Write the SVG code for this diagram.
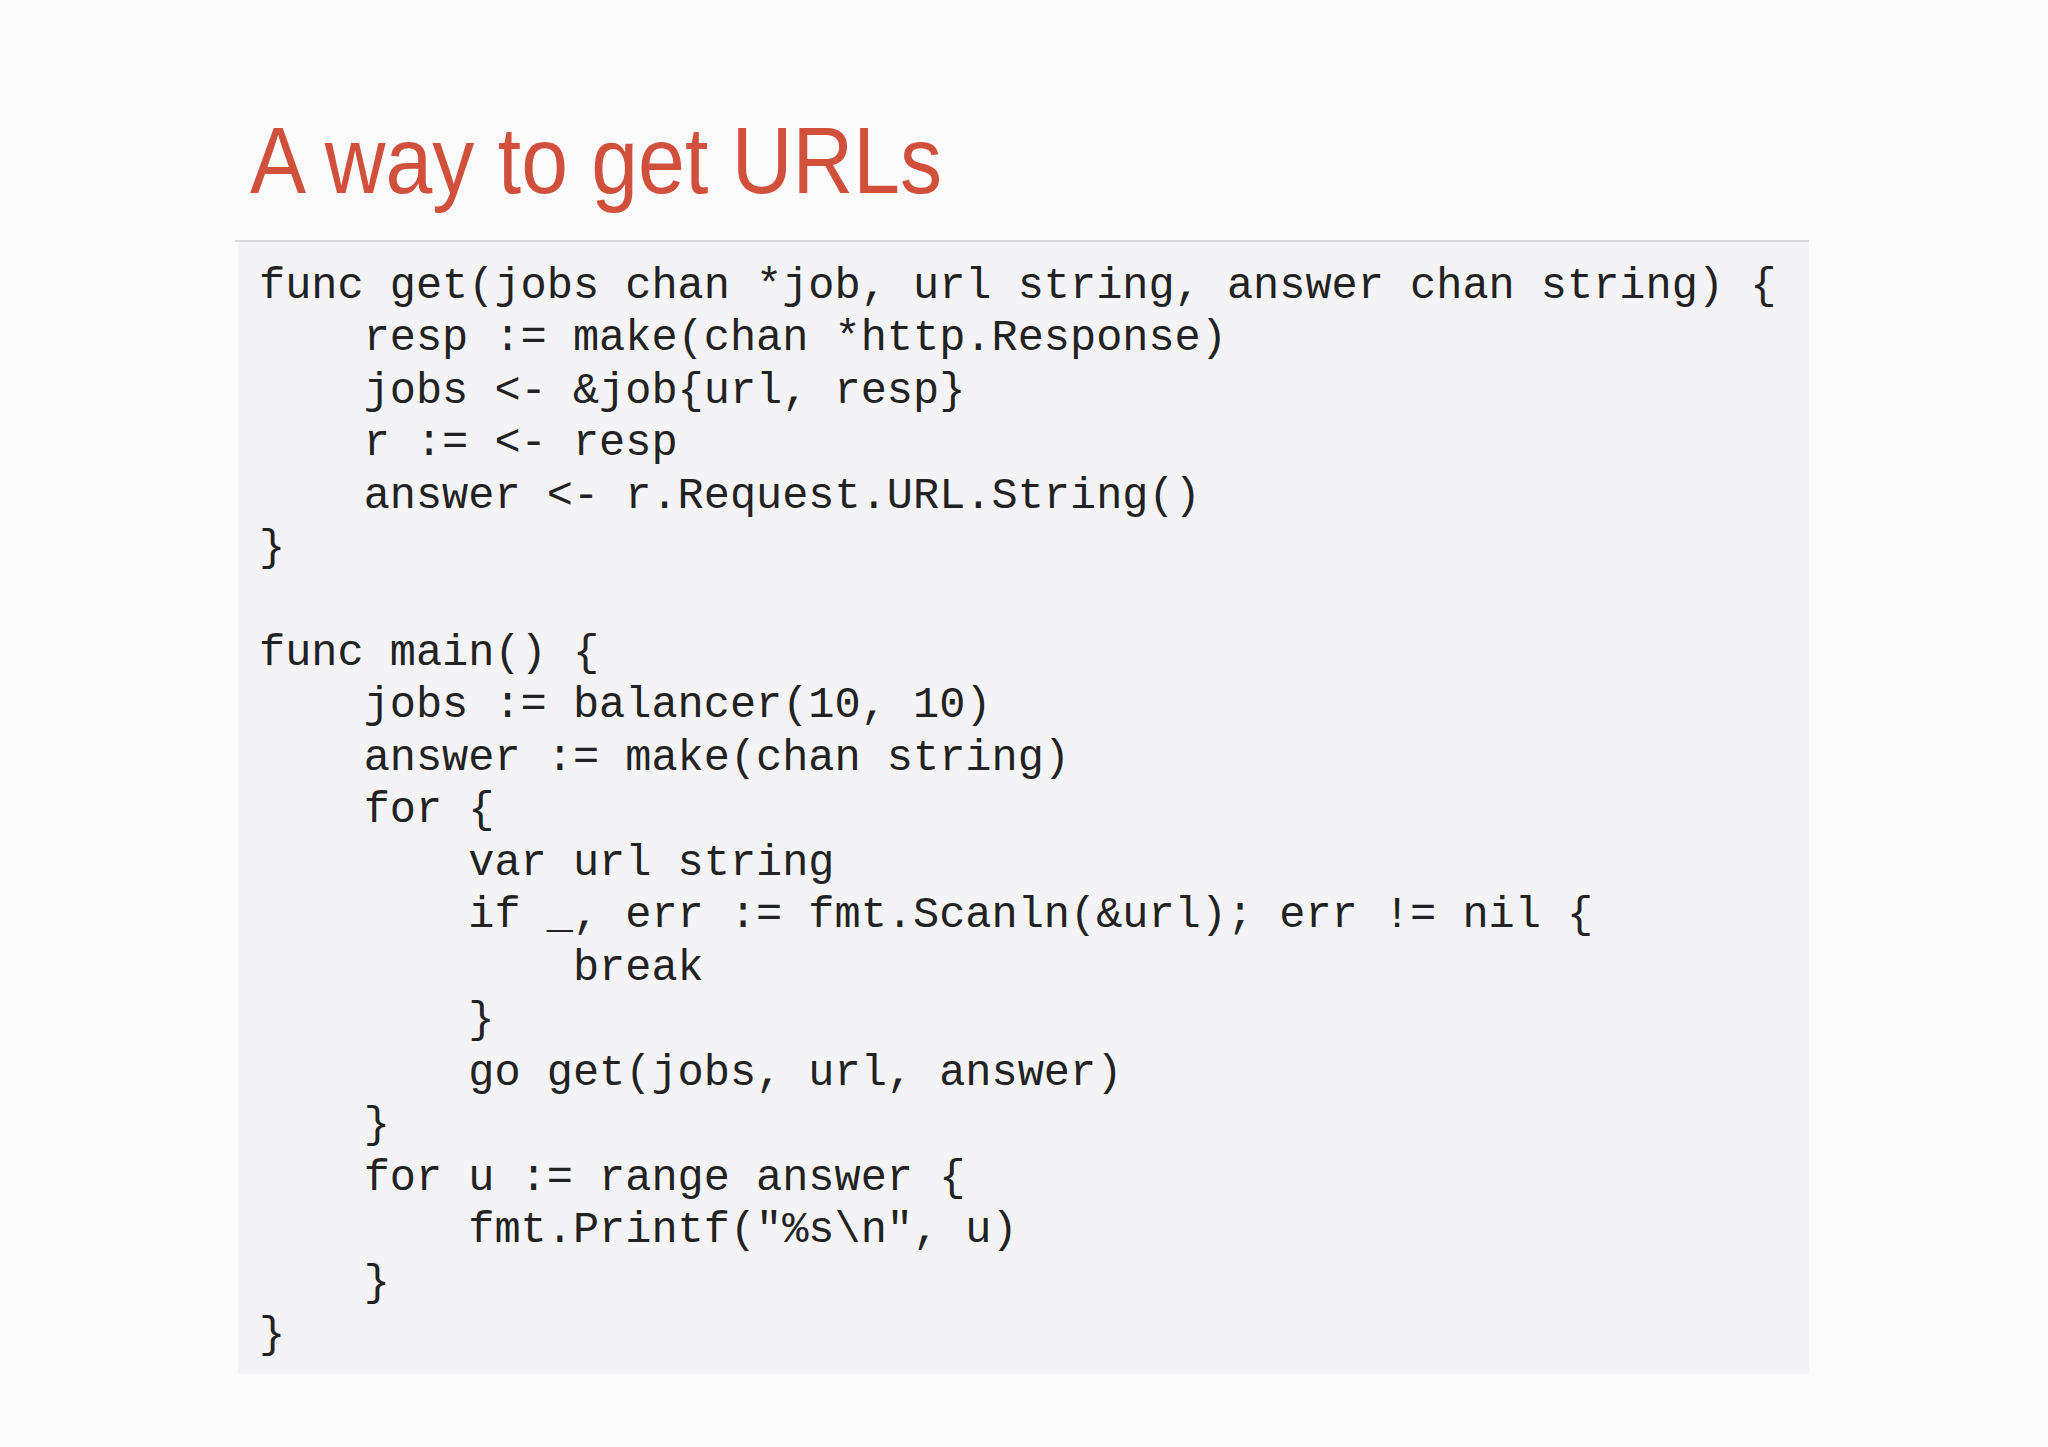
<svg xmlns="http://www.w3.org/2000/svg" width="2048" height="1447" viewBox="0 0 2048 1447">
<style>
.c{font-family:"Liberation Mono","DejaVu Sans Mono",monospace;font-size:43.6px;fill:#222;white-space:pre}
.t{font-family:"Liberation Sans",Arial,sans-serif;font-size:94px;fill:#d1503b}
</style>
<rect width="2048" height="1447" fill="#fbfbfc"/>
<g id="title"><text class="t" x="250" y="193" textLength="692" lengthAdjust="spacingAndGlyphs">A way to get URLs</text></g>
<g id="code">
<rect x="238" y="242" width="1571" height="1132" fill="#f4f4f6"/>
<line x1="235" y1="241" x2="1809" y2="241" stroke="#d8d8d8" stroke-width="2"/>
<text class="c" x="259" y="298">func get(jobs chan *job, url string, answer chan string) {</text>
<text class="c" x="259" y="350">    resp := make(chan *http.Response)</text>
<text class="c" x="259" y="403">    jobs &lt;- &amp;job{url, resp}</text>
<text class="c" x="259" y="455">    r := &lt;- resp</text>
<text class="c" x="259" y="508">    answer &lt;- r.Request.URL.String()</text>
<text class="c" x="259" y="560">}</text>
<text class="c" x="259" y="665">func main() {</text>
<text class="c" x="259" y="717">    jobs := balancer(10, 10)</text>
<text class="c" x="259" y="770">    answer := make(chan string)</text>
<text class="c" x="259" y="822">    for {</text>
<text class="c" x="259" y="875">        var url string</text>
<text class="c" x="259" y="927">        if _, err := fmt.Scanln(&amp;url); err != nil {</text>
<text class="c" x="259" y="980">            break</text>
<text class="c" x="259" y="1032">        }</text>
<text class="c" x="259" y="1085">        go get(jobs, url, answer)</text>
<text class="c" x="259" y="1137">    }</text>
<text class="c" x="259" y="1190">    for u := range answer {</text>
<text class="c" x="259" y="1242">        fmt.Printf("%s\n", u)</text>
<text class="c" x="259" y="1295">    }</text>
<text class="c" x="259" y="1347">}</text>
</g>
</svg>
